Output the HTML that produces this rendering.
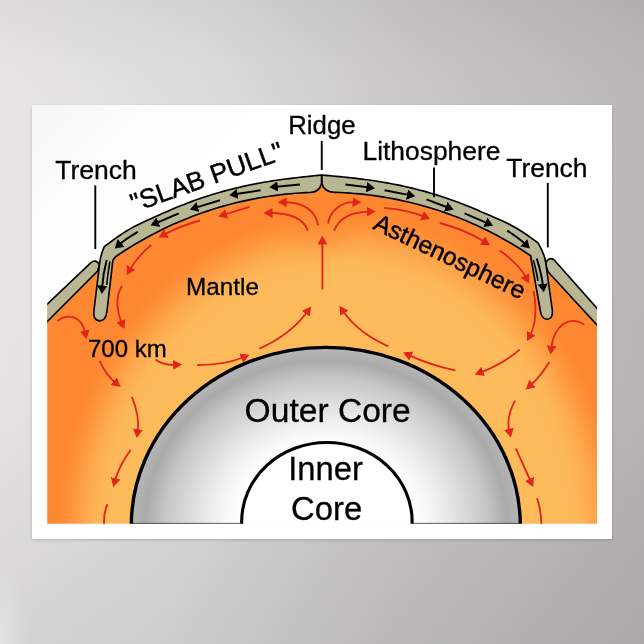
<!DOCTYPE html>
<html><head><meta charset="utf-8"><title>Slab pull diagram poster</title>
<style>
html,body{margin:0;padding:0;}
body{width:644px;height:644px;overflow:hidden;position:relative;font-family:"Liberation Sans",sans-serif;
background:linear-gradient(93deg,#e8e6e7 0%,#dedddd 30%,#c9c7c7 62%,#b8b6b5 100%);}
#shade{position:absolute;left:0;top:0;width:644px;height:644px;background:linear-gradient(180deg,rgba(0,0,0,0.05) 0%,rgba(0,0,0,0.012) 10%,rgba(0,0,0,0) 17%,rgba(0,0,0,0) 40%,rgba(0,0,0,0.012) 62%,rgba(0,0,0,0.075) 100%);}
#hl{position:absolute;left:-30px;top:560px;width:60px;height:170px;border-radius:50%;background:radial-gradient(closest-side,rgba(255,255,255,0.35),rgba(255,255,255,0));}
#poster{position:absolute;left:32px;top:104.5px;width:580.4px;height:434.1px;background:linear-gradient(135deg,rgba(0,0,0,0.035) 0%,rgba(0,0,0,0.012) 12%,rgba(0,0,0,0) 24%),#fff;box-shadow:0 1px 3px rgba(0,0,0,0.18);}
svg{position:absolute;left:0;top:0;}
text{font-family:"Liberation Sans",sans-serif;fill:#000;stroke:#000;stroke-width:0.3px;}
</style></head><body>
<div id="shade"></div>
<div id="hl"></div>
<div id="poster"></div>
<svg width="644" height="644" viewBox="0 0 644 644">
<defs>
<clipPath id="frame"><rect x="47.2" y="104" width="549.8" height="419.8"/></clipPath>
<clipPath id="mclip"><path d="M30,333.00 L95,271 L98.6,267 L101.5,258 L106,246.86 L113.17,241.53 L120.35,236.46 L127.53,231.86 L134.70,227.84 L141.88,224.29 L149.05,221.00 L156.22,217.78 L163.40,214.59 L170.57,211.45 L177.75,208.43 L184.93,205.55 L192.10,202.83 L199.28,200.28 L206.45,197.87 L213.62,195.62 L220.80,193.52 L227.97,191.56 L235.15,189.74 L242.32,188.06 L249.50,186.51 L256.68,185.09 L263.85,183.79 L271.02,182.60 L278.20,181.52 L285.38,180.54 L292.55,179.64 L299.73,178.82 L306.90,178.04 L314.07,177.30 L321.25,176.56 L328.43,177.13 L335.60,177.79 L342.77,178.48 L349.95,179.22 L357.12,180.03 L364.30,180.92 L371.48,181.91 L378.65,183.00 L385.82,184.21 L393.00,185.53 L400.18,186.98 L407.35,188.56 L414.52,190.27 L421.70,192.13 L428.88,194.12 L436.05,196.27 L443.23,198.56 L450.40,201.01 L457.57,203.61 L464.75,206.37 L471.93,209.28 L479.10,212.30 L486.27,215.40 L493.45,218.52 L500.62,221.69 L507.80,225.06 L514.98,228.87 L522.15,233.24 L529.33,238.12 L536.50,243.29 L541.5,254 L546,265 L550,272 L615,342 L615,540 L30,540 Z"/></clipPath>
<radialGradient id="mg" gradientUnits="userSpaceOnUse" cx="0" cy="0" r="1" gradientTransform="translate(339 541) scale(285 333)">
<stop offset="0.000" stop-color="#fdba5a"/><stop offset="0.790" stop-color="#fdba5a"/><stop offset="0.805" stop-color="#fdba5a"/><stop offset="0.820" stop-color="#fdb959"/><stop offset="0.835" stop-color="#fdb858"/><stop offset="0.850" stop-color="#fdb556"/><stop offset="0.865" stop-color="#fdb153"/><stop offset="0.880" stop-color="#fdad50"/><stop offset="0.895" stop-color="#fda84c"/><stop offset="0.910" stop-color="#fda247"/><stop offset="0.925" stop-color="#fe9c42"/><stop offset="0.940" stop-color="#fe963e"/><stop offset="0.955" stop-color="#fe9139"/><stop offset="0.970" stop-color="#fe8c35"/><stop offset="0.985" stop-color="#fe8933"/><stop offset="1.000" stop-color="#fe8832"/>
</radialGradient>
<radialGradient id="og" gradientUnits="userSpaceOnUse" cx="0" cy="0" r="1" gradientTransform="translate(325.8 525.6) scale(194.5 178.2)">
<stop offset="0" stop-color="#ffffff"/><stop offset="0.44" stop-color="#ffffff"/><stop offset="0.52" stop-color="#f8f8f8"/><stop offset="0.625" stop-color="#e9e9e9"/><stop offset="0.725" stop-color="#d8d8d8"/><stop offset="0.83" stop-color="#c6c6c6"/><stop offset="0.93" stop-color="#aaaaaa"/><stop offset="0.985" stop-color="#b4b4b4"/><stop offset="1" stop-color="#b4b4b4"/>
</radialGradient>
<filter id="bl2" filterUnits="userSpaceOnUse" x="0" y="100" width="644" height="544"><feGaussianBlur stdDeviation="13 17"/></filter>
<filter id="bl" x="-50%" y="-50%" width="200%" height="200%"><feGaussianBlur stdDeviation="9"/></filter>
<marker id="r" markerUnits="userSpaceOnUse" markerWidth="12" markerHeight="12" refX="1.9" refY="4.9" orient="auto"><path d="M0,0 L8.9,4.9 L0,9.8 Z" fill="#e1251b"/></marker>
<marker id="b" markerUnits="userSpaceOnUse" markerWidth="12" markerHeight="12" refX="1.5" refY="5.2" orient="auto"><path d="M0,0 L8.5,5.2 L0,10.4 Z" fill="#000"/></marker>
</defs>
<g clip-path="url(#frame)">
<g clip-path="url(#mclip)">
<rect x="30" y="150" width="590" height="400" fill="url(#mg)"/>
<ellipse cx="322" cy="224" rx="30" ry="28" fill="#fe8832" opacity="0.42" filter="url(#bl)"/>
</g>
<!-- outer plates -->
<path d="M30,320.6 L91,262.6 Q96,258.6 99.4,264.5 L97.6,271.2 L30,339 Z" fill="#b8b693" stroke="#000" stroke-width="1.65" stroke-linejoin="round"/>
<path d="M615,328.4 L554,259.8 Q548.6,256.2 545.3,263.5 L548.2,272 L615,344.6 Z" fill="#b8b693" stroke="#000" stroke-width="1.65" stroke-linejoin="round"/>
<path d="M321.75,175.01 L318.13,175.38 L314.50,175.76 L310.88,176.13 L307.25,176.51 L303.63,176.89 L300.00,177.29 L296.38,177.70 L292.76,178.12 L289.13,178.56 L285.51,179.02 L281.88,179.51 L278.26,180.02 L274.64,180.55 L271.01,181.11 L267.39,181.69 L263.76,182.30 L260.14,182.95 L256.51,183.62 L252.89,184.32 L249.27,185.06 L245.64,185.83 L242.02,186.63 L238.39,187.47 L234.77,188.33 L231.15,189.24 L227.52,190.18 L223.90,191.15 L220.27,192.17 L216.65,193.22 L213.03,194.30 L209.40,195.43 L205.78,196.59 L202.15,197.79 L198.53,199.03 L194.90,200.32 L191.28,201.64 L187.66,203.00 L184.03,204.40 L180.41,205.85 L176.78,207.33 L173.16,208.85 L169.53,210.40 L165.91,211.98 L162.29,213.58 L158.66,215.19 L155.04,216.81 L151.41,218.43 L147.79,220.07 L144.17,221.72 L140.54,223.42 L136.92,225.20 L133.29,227.08 L129.67,229.10 L126.05,231.26 L122.42,233.58 L118.80,236.02 L115.17,238.58 L111.55,241.22 L107.92,243.91 L104.30,246.64 Q100.6,255 99.8,262 L93.9,311 Q93.0,320.6 99.6,320.9 Q106.0,320.6 107.0,311 L112.9,260.2 L115.5,256.72 L120.36,253.45 L125.22,250.28 L130.09,247.22 L134.95,244.27 L139.81,241.42 L144.68,238.67 L149.54,236.01 L154.40,233.44 L159.26,230.97 L164.12,228.59 L168.99,226.30 L173.85,224.09 L178.71,221.96 L183.57,219.92 L188.44,217.96 L193.30,216.08 L198.16,214.28 L203.03,212.55 L207.89,210.90 L212.75,209.33 L217.61,207.83 L222.47,206.40 L227.34,205.05 L232.20,203.77 L237.06,202.55 L241.93,201.41 L246.79,200.34 L251.65,199.33 L256.51,198.40 L261.38,197.53 L266.24,196.72 L271.10,195.99 L275.96,195.32 L280.82,194.71 L285.69,194.18 L290.55,193.70 L295.41,193.30 L300.27,192.95 L305.14,192.67 L310.00,192.46 Q319.5,192.3 321.75,183 Q324,192.3 335.00,192.37 L339.90,192.55 L344.80,192.80 L349.70,193.11 L354.60,193.49 L359.50,193.93 L364.40,194.44 L369.30,195.02 L374.20,195.66 L379.10,196.37 L384.00,197.15 L388.90,198.00 L393.80,198.91 L398.70,199.89 L403.60,200.94 L408.50,202.07 L413.40,203.26 L418.30,204.52 L423.20,205.86 L428.10,207.27 L433.00,208.75 L437.90,210.31 L442.80,211.94 L447.70,213.65 L452.60,215.44 L457.50,217.31 L462.40,219.26 L467.30,221.29 L472.20,223.40 L477.10,225.60 L482.00,227.89 L486.90,230.26 L491.80,232.72 L496.70,235.28 L501.60,237.93 L506.50,240.68 L511.40,243.53 L516.30,246.48 L521.20,249.53 L526.10,252.70 L531.00,255.97 L530.8,257 L540.2,310 Q541.4,319.2 547.0,319.3 Q553.2,319 552.3,310 L545.6,262 Q544.5,254 538.20,243.04 L534.59,240.40 L530.99,237.80 L527.38,235.26 L523.77,232.81 L520.16,230.48 L516.56,228.28 L512.95,226.24 L509.34,224.34 L505.73,222.56 L502.13,220.87 L498.52,219.24 L494.91,217.66 L491.30,216.08 L487.70,214.52 L484.09,212.95 L480.48,211.40 L476.87,209.85 L473.27,208.33 L469.66,206.84 L466.05,205.38 L462.44,203.96 L458.84,202.58 L455.23,201.24 L451.62,199.94 L448.01,198.67 L444.41,197.45 L440.80,196.27 L437.19,195.12 L433.58,194.01 L429.98,192.94 L426.37,191.91 L422.76,190.91 L419.15,189.95 L415.55,189.03 L411.94,188.14 L408.33,187.28 L404.72,186.46 L401.12,185.68 L397.51,184.92 L393.90,184.20 L390.29,183.52 L386.69,182.86 L383.08,182.23 L379.47,181.63 L375.86,181.06 L372.25,180.52 L368.65,180.01 L365.04,179.52 L361.43,179.06 L357.83,178.61 L354.22,178.19 L350.61,177.79 L347.00,177.41 L343.39,177.04 L339.79,176.69 L336.18,176.35 L332.57,176.01 L328.97,175.68 L325.36,175.34 L321.75,175.01 Z" fill="#b8b693" stroke="#000" stroke-width="1.65" stroke-linejoin="round"/>
<path d="M321.75,174.8 L321.75,184" stroke="#000" stroke-width="2" fill="none"/>
<!-- core -->
<ellipse cx="325.8" cy="525.6" rx="194.5" ry="178.2" fill="url(#og)" stroke="#000" stroke-width="3.4"/>
<ellipse cx="326.9" cy="521.3" rx="85.2" ry="78.8" fill="#fff" stroke="#000" stroke-width="3.1"/>
<path d="M132,523.4 L241.6,523.4 M412.3,523.4 L520.5,523.4" stroke="#333" stroke-width="1"/>
<path d="M318.10,225.50 C316.00,211.00 303.00,202.00 284.70,202.22" fill="none" stroke="#e1251b" stroke-width="1.85" marker-end="url(#r)"/>
<path d="M308.00,230.60 C303.00,218.00 290.00,213.00 270.60,213.00" fill="none" stroke="#e1251b" stroke-width="1.85" marker-end="url(#r)"/>
<path d="M249.50,206.90 L224.90,214.37" fill="none" stroke="#e1251b" stroke-width="1.85" marker-end="url(#r)"/>
<path d="M200.00,220.50 Q180.00,226.00 164.75,234.26" fill="none" stroke="#e1251b" stroke-width="1.85" marker-end="url(#r)"/>
<path d="M151.20,245.00 Q137.00,257.00 130.22,269.09" fill="none" stroke="#e1251b" stroke-width="1.85" marker-end="url(#r)"/>
<path d="M122.00,286.00 C114.50,298.00 117.50,313.00 121.56,322.56" fill="none" stroke="#e1251b" stroke-width="1.85" marker-end="url(#r)"/>
<path d="M57.40,321.00 C70.00,312.00 82.00,318.00 85.12,332.46" fill="none" stroke="#e1251b" stroke-width="1.85" marker-end="url(#r)"/>
<path d="M99.60,360.80 Q106.00,375.00 115.26,382.50" fill="none" stroke="#e1251b" stroke-width="1.85" marker-end="url(#r)"/>
<path d="M155.50,359.60 Q163.00,365.50 175.01,364.80" fill="none" stroke="#e1251b" stroke-width="1.85" marker-end="url(#r)"/>
<path d="M197.30,365.00 Q225.00,365.00 242.94,357.50" fill="none" stroke="#e1251b" stroke-width="1.85" marker-end="url(#r)"/>
<path d="M259.40,348.60 Q290.00,335.00 306.93,312.22" fill="none" stroke="#e1251b" stroke-width="1.85" marker-end="url(#r)"/>
<path d="M131.90,396.80 Q140.00,417.00 137.65,431.10" fill="none" stroke="#e1251b" stroke-width="1.85" marker-end="url(#r)"/>
<path d="M130.70,449.70 Q119.00,466.00 115.13,480.24" fill="none" stroke="#e1251b" stroke-width="1.85" marker-end="url(#r)"/>
<path d="M107.60,504.30 Q103.50,512.00 104.10,524.00" fill="none" stroke="#e1251b" stroke-width="1.85"/>
<path d="M322.40,289.50 L322.40,242.60" fill="none" stroke="#e1251b" stroke-width="1.85" marker-end="url(#r)"/>
<path d="M328.10,223.50 C330.00,210.00 342.00,202.00 354.40,202.19" fill="none" stroke="#e1251b" stroke-width="1.85" marker-end="url(#r)"/>
<path d="M334.20,230.60 C339.00,218.00 352.00,212.00 368.60,211.58" fill="none" stroke="#e1251b" stroke-width="1.85" marker-end="url(#r)"/>
<path d="M384.20,207.80 Q408.00,210.00 423.71,216.37" fill="none" stroke="#e1251b" stroke-width="1.85" marker-end="url(#r)"/>
<path d="M439.80,223.00 Q466.00,230.00 484.10,241.54" fill="none" stroke="#e1251b" stroke-width="1.85" marker-end="url(#r)"/>
<path d="M499.70,250.60 Q519.00,264.00 525.79,277.18" fill="none" stroke="#e1251b" stroke-width="1.85" marker-end="url(#r)"/>
<path d="M533.50,291.00 C537.50,310.00 535.00,326.00 530.29,334.82" fill="none" stroke="#e1251b" stroke-width="1.85" marker-end="url(#r)"/>
<path d="M584.20,324.80 C570.00,315.00 554.00,325.00 551.40,347.65" fill="none" stroke="#e1251b" stroke-width="1.85" marker-end="url(#r)"/>
<path d="M519.60,349.60 Q503.00,364.00 481.36,372.06" fill="none" stroke="#e1251b" stroke-width="1.85" marker-end="url(#r)"/>
<path d="M549.40,362.00 Q540.00,377.00 531.07,384.80" fill="none" stroke="#e1251b" stroke-width="1.85" marker-end="url(#r)"/>
<path d="M515.10,400.60 Q506.00,417.00 509.27,430.69" fill="none" stroke="#e1251b" stroke-width="1.85" marker-end="url(#r)"/>
<path d="M515.80,448.40 L530.32,480.62" fill="none" stroke="#e1251b" stroke-width="1.85" marker-end="url(#r)"/>
<path d="M537.00,498.00 Q541.00,510.00 541.40,524.00" fill="none" stroke="#e1251b" stroke-width="1.85"/>
<path d="M455.40,370.40 Q430.00,365.00 409.53,355.30" fill="none" stroke="#e1251b" stroke-width="1.85" marker-end="url(#r)"/>
<path d="M388.30,346.30 Q358.00,333.00 343.35,311.58" fill="none" stroke="#e1251b" stroke-width="1.85" marker-end="url(#r)"/>
<path d="M299.90,184.50 L276.37,186.66" fill="none" stroke="#000" stroke-width="2.0" marker-end="url(#b)"/>
<path d="M260.60,190.20 L236.21,194.10" fill="none" stroke="#000" stroke-width="2.0" marker-end="url(#b)"/>
<path d="M220.00,200.30 L196.60,207.37" fill="none" stroke="#000" stroke-width="2.0" marker-end="url(#b)"/>
<path d="M178.80,213.40 L157.03,222.74" fill="none" stroke="#000" stroke-width="2.0" marker-end="url(#b)"/>
<path d="M137.80,231.90 Q125.00,239.50 120.02,243.94" fill="none" stroke="#000" stroke-width="2.0" marker-end="url(#b)"/>
<path d="M345.30,184.50 L368.05,187.33" fill="none" stroke="#000" stroke-width="2.0" marker-end="url(#b)"/>
<path d="M384.60,190.20 L408.43,194.86" fill="none" stroke="#000" stroke-width="2.0" marker-end="url(#b)"/>
<path d="M426.50,199.40 L447.06,207.29" fill="none" stroke="#000" stroke-width="2.0" marker-end="url(#b)"/>
<path d="M464.50,213.30 L486.68,222.92" fill="none" stroke="#000" stroke-width="2.0" marker-end="url(#b)"/>
<path d="M507.20,230.60 Q520.00,239.00 524.80,243.70" fill="none" stroke="#000" stroke-width="2.0" marker-end="url(#b)"/>
<path d="M106.70,260.00 Q103.00,274.00 102.22,287.01" fill="none" stroke="#000" stroke-width="2.0" marker-end="url(#b)"/>
<path d="M110,261.5 Q107.6,274 106.7,285" fill="none" stroke="#000" stroke-width="1.6"/>
<path d="M536.80,258.50 Q541.50,274.00 542.93,285.35" fill="none" stroke="#000" stroke-width="2.0" marker-end="url(#b)"/>
<path d="M533.3,260 Q536.7,272 538,281" fill="none" stroke="#000" stroke-width="1.6"/>
</g>
<!-- leader lines -->
<path d="M95.3,185.4 L95.3,249" stroke="#000" stroke-width="1.9"/>
<path d="M321.75,141 L321.75,170" stroke="#000" stroke-width="1.9"/>
<path d="M434,167.6 L434,197.2" stroke="#000" stroke-width="1.9"/>
<path d="M547.8,183 L547.8,247.4" stroke="#000" stroke-width="1.9"/>
<!-- labels -->
<g opacity="0.999">
<text x="55.2" y="179.4" font-size="26.5">Trench</text>
<text x="288.2" y="133.5" font-size="25.8">Ridge</text>
<text x="362.5" y="159.6" font-size="26.4">Lithosphere</text>
<text x="506.3" y="177" font-size="26.4">Trench</text>
<text x="186" y="295.2" font-size="24.3">Mantle</text>
<text x="88" y="357" font-size="24">700 km</text>
<text x="244.6" y="421.8" font-size="33.6">Outer Core</text>
<text x="325.6" y="479.7" font-size="32.8" text-anchor="middle">Inner</text>
<text x="326.6" y="520" font-size="32.8" text-anchor="middle">Core</text>
<text transform="translate(134.3,212.5) rotate(-19.7)" font-size="26.5" style="stroke-width:0.45px">"SLAB PULL"</text>
<text transform="translate(372,228.4) rotate(25.6)" font-size="24.5" style="stroke-width:0.45px">Asthenosphere</text>
</g>
</svg>
</body></html>
